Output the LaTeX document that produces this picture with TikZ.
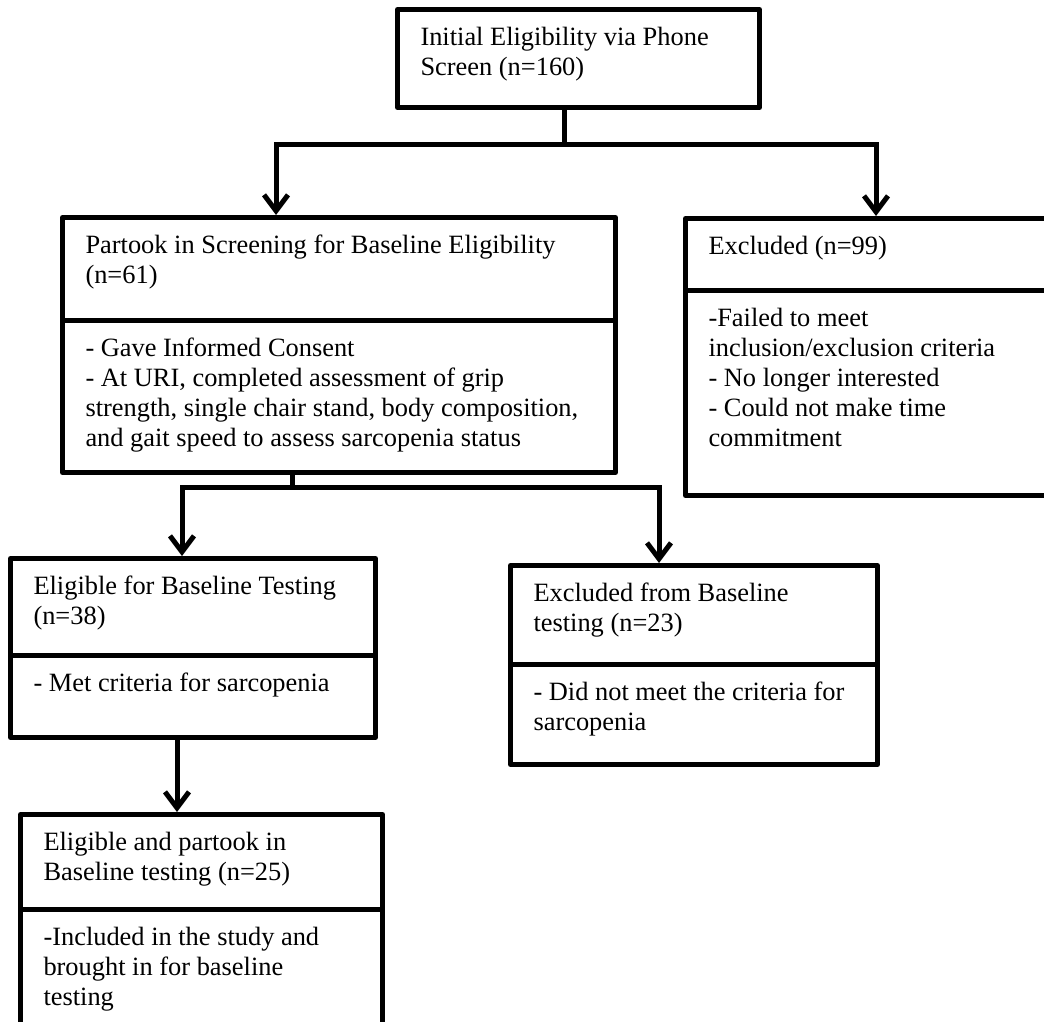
\documentclass[tikz,border=0pt]{standalone}
\usepackage{fontspec}
\setmainfont{Liberation Serif}
\usepackage{tikz}
\usetikzlibrary{calc,positioning,arrows.meta}
\newlength{\pxu}\setlength{\pxu}{0.75pt}
% text of one box section: width, height (px), lines
\newcommand{\sectext}[3]{\parbox[c][#2\pxu][t]{\dimexpr#1\pxu-46\pxu\relax}{\raggedright\vspace*{11.25pt}\strut#3}}

\begin{document}
\begin{tikzpicture}[x=0.75pt,y=-0.75pt,
  sect/.style={draw, line width=3.75pt, line join=round, inner xsep=17.25pt, inner ysep=0pt, anchor=north west, font=\fontsize{19.8}{22.5}\selectfont},
  conn/.style={line width=3.75pt},
  arr/.style={conn, -{Straight Barb[length=12pt,width=18pt]}}]
  \useasboundingbox (0,0) rectangle (1044,1021);

  % phone screen
  \node[sect] (screen) at (395,7) {\sectext{362}{98}{Initial Eligibility via Phone\\Screen (n=160)}};

  % baseline screening
  \node[sect] (partook) at (60,215) {\sectext{553}{103}{Partook in Screening for Baseline Eligibility\\(n=61)}};
  \node[sect] (partookdet) at (60,318) {\sectext{553}{152}{- Gave Informed Consent\\- At URI, completed assessment of grip\\strength, single chair stand, body composition,\\and gait speed to assess sarcopenia status}};

  % excluded
  \node[sect] (excl) at (683,216) {\sectext{400}{72}{Excluded (n=99)}};
  \node[sect] (excldet) at (683,288) {\sectext{400}{205}{-Failed to meet\\inclusion/exclusion criteria\\- No longer interested\\- Could not make time\\commitment}};

  % eligible
  \node[sect] (elig) at (8,556) {\sectext{365}{97}{Eligible for Baseline Testing\\(n=38)}};
  \node[sect] (eligdet) at (8,653) {\sectext{365}{82}{- Met criteria for sarcopenia}};

  % excluded from baseline
  \node[sect] (exclb) at (508,563) {\sectext{367}{99}{Excluded from Baseline\\testing (n=23)}};
  \node[sect] (exclbdet) at (508,662) {\sectext{367}{100}{- Did not meet the criteria for\\sarcopenia}};

  % included
  \node[sect] (incl) at (18,812) {\sectext{362}{95}{Eligible and partook in\\Baseline testing (n=25)}};
  \node[sect] (incldet) at (18,907) {\sectext{362}{130}{-Included in the study and\\brought in for baseline\\testing}};

  % connectors
  \coordinate (j1) at (564,144);
  \coordinate (b1l) at (276,144);
  \coordinate (b1r) at (876,144);
  \draw[conn] (screen.south -| j1) -- (j1);
  \draw[arr] (j1) -- (b1l) -- (partook.north -| b1l);
  \draw[arr] (j1) -- (b1r) -- (excl.north -| b1r);

  \coordinate (j2) at (292,487);
  \coordinate (b2l) at (182,487);
  \coordinate (b2r) at (659,487);
  \draw[conn] (partookdet.south -| j2) -- (j2);
  \draw[arr] (j2) -- (b2l) -- (elig.north -| b2l);
  \draw[arr] (j2) -- (b2r) -- (exclb.north -| b2r);

  \coordinate (j3) at (177,735);
  \draw[arr] (eligdet.south -| j3) -- (incl.north -| j3);
\end{tikzpicture}
\end{document}
